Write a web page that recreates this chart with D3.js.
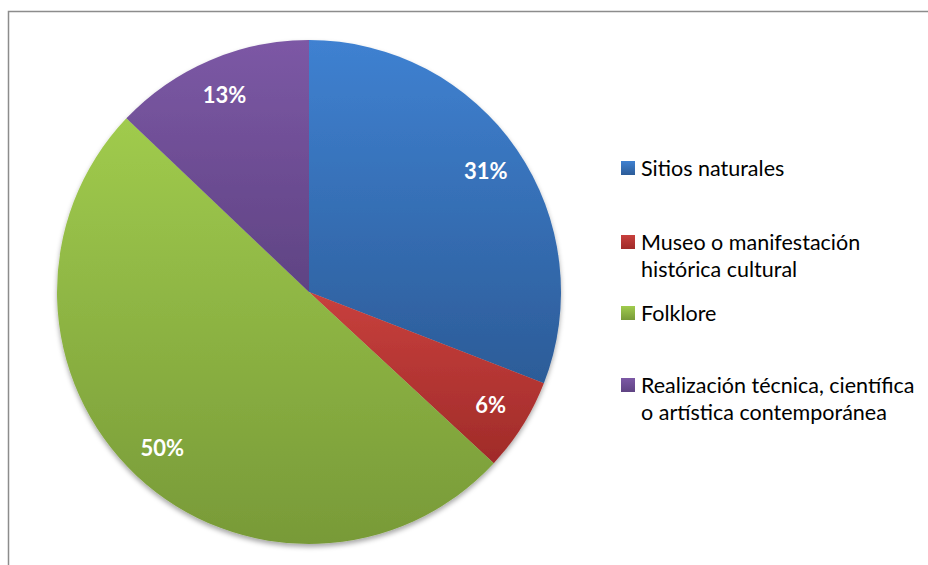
<!DOCTYPE html>
<html>
<head>
<meta charset="utf-8">
<script src="https://cdn.jsdelivr.net/npm/d3@7"></script>
<style>
  body { margin: 0; background: #fff; }
  svg { display: block; font-family: Lato, "Open Sans", sans-serif; }
</style>
</head>
<body>
<div id="chart"></div>
<script>
// data
var categories = ["Sitios naturales", "Museo o manifestación histórica cultural", "Folklore", "Realización técnica, científica o artística contemporánea"];
var legendLines = [["Sitios naturales"], ["Museo o manifestación", "histórica cultural"], ["Folklore"], ["Realización técnica, científica", "o artística contemporánea"]];
var values = [30.9, 6.0, 50.2, 12.9];
var pctLabels = ["31%", "6%", "50%", "13%"];
var colorsTop = ["#3f81d1", "#c8403d", "#a0cb4d", "#7c58a5"];
var colorsBottom = ["#2c5c98", "#a02b29", "#789a38", "#5f4383"];

var width = 928, height = 565;
var cx = 309, cy = 292, radius = 252;

var svg = d3.select("#chart").append("svg")
  .attr("width", width)
  .attr("height", height);

var defs = svg.append("defs");

// soft shadow under the pie
var shadow = defs.append("filter").attr("id", "shadow")
  .attr("x", "-10%").attr("y", "-10%").attr("width", "120%").attr("height", "120%");
shadow.append("feDropShadow")
  .attr("dx", 0).attr("dy", 3).attr("stdDeviation", 2.5)
  .attr("flood-color", "#000").attr("flood-opacity", 0.35);

// vertical gradient per slice (over each slice's own box, like Excel)
categories.forEach(function(c, i) {
  var g = defs.append("linearGradient")
    .attr("id", "grad" + i)
    .attr("x1", 0).attr("x2", 0)
    .attr("y1", 0).attr("y2", 1);
  g.append("stop").attr("offset", "0%").attr("stop-color", colorsTop[i]);
  g.append("stop").attr("offset", "100%").attr("stop-color", colorsBottom[i]);
});

// chart frame (only left and top edges visible)
svg.append("path")
  .attr("d", "M8.5," + height + "V11.5H" + width)
  .attr("fill", "none")
  .attr("stroke", "#8c8c8c")
  .attr("stroke-width", 1.5);

var pie = d3.pie().sort(null).value(d => d);
var arcs = pie(values);

var arc = d3.arc().innerRadius(0).outerRadius(radius);
var labelArc = d3.arc().innerRadius(radius * 0.85).outerRadius(radius * 0.85);

var pieGroup = svg.append("g")
  .attr("transform", `translate(${cx}, ${cy})`);

pieGroup.append("g")
  .attr("filter", "url(#shadow)")
  .selectAll("path")
  .data(arcs)
  .enter()
  .append("path")
  .attr("d", arc)
  .attr("fill", (d, i) => `url(#grad${i})`);

pieGroup.selectAll("text")
  .data(arcs)
  .enter()
  .append("text")
  .attr("transform", d => `translate(${labelArc.centroid(d)})`)
  .attr("text-anchor", "middle")
  .attr("dy", "0.35em")
  .attr("font-size", "22px")
  .attr("font-weight", "bold")
  .attr("fill", "#fff")
  .text((d, i) => pctLabels[i]);

// legend
var legendY = [168, 242, 313, 385];
var legend = svg.append("g");

legendLines.forEach(function(lines, i) {
  var item = legend.append("g").attr("transform", `translate(621, ${legendY[i]})`);
  item.append("rect")
    .attr("x", 0).attr("y", -7)
    .attr("width", 14).attr("height", 14)
    .attr("fill", `url(#grad${i})`);
  lines.forEach(function(line, j) {
    item.append("text")
      .attr("x", 20)
      .attr("y", j * 27)
      .attr("dy", "0.35em")
      .attr("font-size", "21.5px")
      .attr("fill", "#000")
      .text(line);
  });
});
</script>
</body>
</html>
